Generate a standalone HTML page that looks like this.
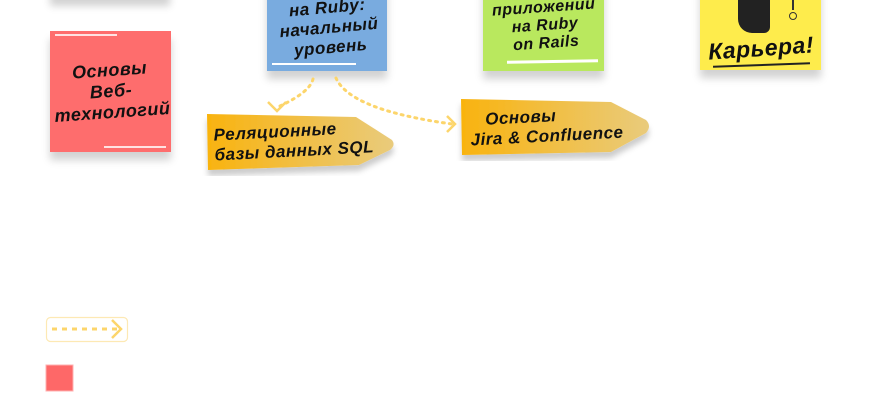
<!DOCTYPE html>
<html><head><meta charset="utf-8"><style>
body{margin:0;width:870px;height:400px;background:#fff;position:relative;overflow:hidden;font-family:"Liberation Sans","DejaVu Sans",sans-serif}
.s{position:absolute;box-shadow:0 8px 8px rgba(0,0,0,.18)}
.t{position:absolute;font-style:italic;font-weight:bold;color:#111;text-align:center;line-height:20px;font-size:17px;letter-spacing:.5px}
</style></head><body>
<div class="s" style="left:50px;top:-20px;width:120px;height:18px;background:#eee"></div>
<div class="s" style="left:50px;top:31px;width:121px;height:121px;background:#fe6d6d"></div>
<div style="position:absolute;left:55px;top:34px;width:62px;height:2px;background:#fff;opacity:.8"></div>
<div style="position:absolute;left:104px;top:146px;width:62px;height:2px;background:#fff;opacity:.8"></div>
<div class="t" style="left:52px;top:60px;width:118px;font-size:18px;line-height:21px;transform:rotate(-4deg)">Основы<br>Веб-<br>технологий</div>

<div class="s" style="left:267px;top:-30px;width:120px;height:101px;background:#79abdf"></div>
<div style="position:absolute;left:272px;top:63px;width:84px;height:2px;background:#fff"></div>
<div class="t" style="left:270px;top:-2px;width:118px;transform:rotate(-5deg)">на Ruby:<br>начальный<br>уровень</div>

<div class="s" style="left:483px;top:-30px;width:121px;height:101px;background:#b9e85e"></div>
<div style="position:absolute;left:507px;top:60px;width:91px;height:3px;background:#fff;transform:rotate(-1deg)"></div>
<div class="t" style="left:486px;top:-1px;width:118px;font-size:16px;line-height:18px;transform:rotate(-4deg)">приложений<br>на Ruby<br>on Rails</div>

<div class="s" style="left:700px;top:-30px;width:121px;height:100px;background:#feec4c"></div>
<div style="position:absolute;left:738px;top:0;width:32px;height:33px;background:#222;border-radius:0 0 6px 14px"></div>
<div style="position:absolute;left:792px;top:0;width:2px;height:10px;background:#333"></div>
<div style="position:absolute;left:789px;top:12px;width:6px;height:6px;border:1.5px solid #333;border-radius:50%"></div>
<div class="t" style="left:702px;top:35px;width:118px;font-size:23px;line-height:26px;transform:rotate(-4deg)">Карьера!</div>
<div style="position:absolute;left:713px;top:64px;width:97px;height:1.5px;background:#222;transform:rotate(-2deg)"></div>

<svg style="position:absolute;left:0;top:0" width="870" height="400">
<defs><linearGradient id="g" x1="0" x2="1"><stop offset="0" stop-color="#f9b30f"/><stop offset="1" stop-color="#e9cb7c"/></linearGradient>
<filter id="f"><feDropShadow dx="0" dy="6" stdDeviation="3" flood-opacity=".2"/></filter></defs>
<path d="M207 114 L356 117 L392 140 Q396 145 390 150 L359 165 L208 170 Z" fill="url(#g)" filter="url(#f)"/>
<path d="M461 99 L611 102 L646 120 Q652 126 646 133 L611 152 L462 155 Z" fill="url(#g)" filter="url(#f)"/>
<g fill="none" stroke="#fcd56b" stroke-width="3" stroke-dasharray="2 5" stroke-linecap="round">
<path d="M313 79 Q310 92 280 106"/>
<path d="M336 78 Q350 110 452 124"/>
</g>
<g fill="none" stroke="#fcd56b" stroke-width="2.5">
<path d="M268 102 L277 111 L286 102"/>
<path d="M447 116 L455 124 L447 132"/>
<rect x="46.5" y="317.5" width="81" height="24" rx="4" stroke="#fde9b4" stroke-width="1.2"/>
<path d="M112 320 L121 329 L112 338"/>
</g>
<line x1="52" y1="329" x2="118" y2="329" stroke="#fcd56b" stroke-width="3" stroke-dasharray="5 5"/>
<rect x="46" y="365" width="27" height="26" fill="#fe6868" stroke="#ffb0b0"/>
</svg>
<div class="t" style="left:214px;top:121px;width:175px;text-align:left;transform:rotate(-3deg)">Реляционные<br>базы данных SQL</div>
<div class="t" style="left:470px;top:106px;width:175px;text-align:left;transform:rotate(-3deg)">&nbsp;&nbsp;&nbsp;Основы<br>Jira &amp; Confluence</div>
</body></html>
